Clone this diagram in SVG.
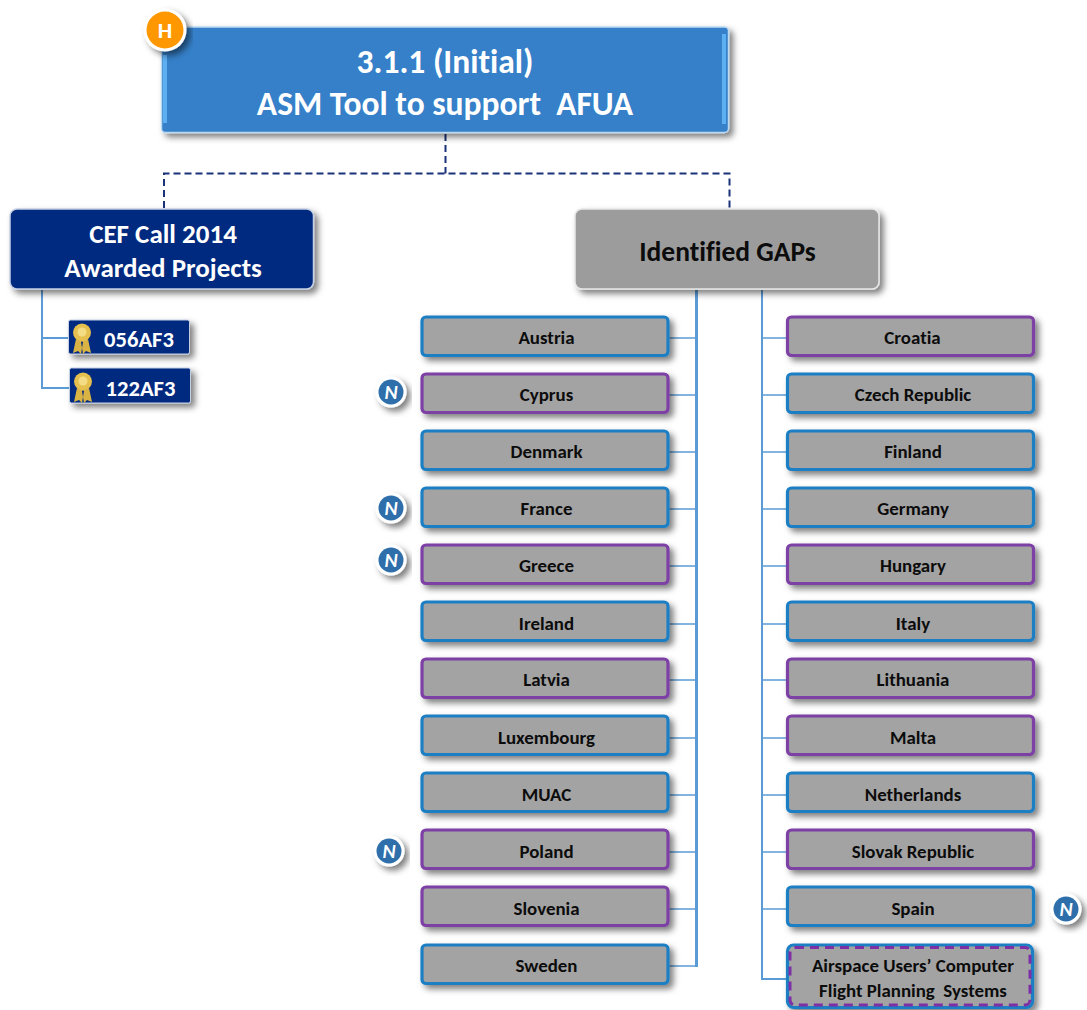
<svg xmlns="http://www.w3.org/2000/svg" width="1087" height="1010" viewBox="0 0 1087 1010">
<style>
text{font-family:Carlito,Lato,"Open Sans","Liberation Sans",sans-serif;font-weight:700;text-anchor:middle;font-variant-ligatures:none}
.w{fill:#fff}.k{fill:#0c0c0c}
.t1{font-size:33.500px}.t2{font-size:27.500px}.t3{font-size:27px}.s{font-size:22.600px}.c{font-size:18.900px}
.blue{fill:#a3a3a3;stroke:#1f7fc4;stroke-width:3.200}
.purple{fill:#a3a3a3;stroke:#7d3fa5;stroke-width:3.200}
.tb{stroke:#5b9bd5;fill:none;stroke-width:1.600}
.dash{stroke:#1a3278;fill:none;stroke-width:2;stroke-dasharray:7 4}
.sh{filter:url(#shadow)}
.nb{fill:#fff}.ni{fill:#2e6fab}
.n{font-size:20px;font-style:italic;font-weight:900;fill:#fff}
</style>
<defs>
<filter id="shadow" x="-10%" y="-20%" width="125%" height="150%"><feDropShadow dx="4" dy="4" stdDeviation="3" flood-color="#000" flood-opacity="0.5"/></filter>
<g id="medal">
<path d="M-6 3L-9 17L-4 15L-1 18L1 6ZM6 3L9 17L4 15L1 18L-1 6Z" fill="#d9b445"/>
<circle r="9" cy="-3.500" fill="#e6c04e"/>
<circle r="4.500" cy="-4" fill="#f4dc85"/>
</g>
<g id="badge">
<circle r="15.500" class="nb" filter="url(#shadow)"/>
<circle r="12.500" class="ni"/>
<text class="n" y="6.500">N</text>
</g>
</defs>
<g id="connectors">
<path class="dash" d="M445.500 134V173.500M164 208V173.500H729.500V208"/>
<path class="tb" style="stroke-width:2" d="M42 290V388H69M42 338H68"/>
<path class="tb" style="stroke-width:3" d="M696.500 290V967"/>
<path class="tb" style="stroke-width:2" d="M762 290V979H787"/>
<path class="tb" d="M668 338H696M668 395H696M668 452H696M668 509H696M668 566H696M668 624H696M668 680H696M668 738H696M668 795H696M668 852H696M668 909H696M668 966H696"/>
<path class="tb" d="M762 338H787M762 395H787M762 452H787M762 509H787M762 566H787M762 624H787M762 680H787M762 738H787M762 795H787M762 852H787M762 909H787"/>
</g>
<g id="root">
<rect x="161.500" y="27" width="567" height="105.500" rx="4" fill="#3480c8" stroke="#bcd9f2" stroke-width="1.500" class="sh"/>
<rect x="163" y="55" width="4" height="68" fill="#5cb0f2"/>
<rect x="722" y="34" width="4" height="90" fill="#5cb0f2"/>
<text class="t1 w" x="445" y="72.500">3.1.1 (Initial)</text>
<text class="t1 w" x="445" y="115" xml:space="preserve">ASM Tool to support  AFUA</text>
</g>
<g id="badge-h">
<circle cx="165" cy="30" r="21.500" fill="#fff" class="sh"/>
<circle cx="165" cy="30" r="18.500" fill="#ff9800"/>
<text class="w" style="font-size:23px" x="165" y="38">H</text>
</g>
<g id="cef">
<rect x="10" y="209" width="303.500" height="80" rx="7" fill="#022a80" stroke="#c5cfe3" stroke-width="1.500" class="sh"/>
<text class="t3 w" x="163" y="243">CEF Call 2014</text>
<text class="t3 w" x="163" y="277">Awarded Projects</text>
</g>
<g id="p056">
<rect x="68.500" y="320" width="121" height="34" rx="2" fill="#022a80" stroke="#c5cfe3" class="sh"/>
<use href="#medal" x="82" y="336"/>
<text class="s w" x="139" y="347">056AF3</text>
</g>
<g id="p122">
<rect x="69.500" y="368" width="121" height="35" rx="2" fill="#022a80" stroke="#c5cfe3" class="sh"/>
<use href="#medal" x="83" y="385"/>
<text class="s w" x="140.500" y="396">122AF3</text>
</g>
<g id="gaps">
<rect x="575" y="209" width="304" height="80" rx="7" fill="#9c9c9c" stroke="#e6e6e6" stroke-width="1.500" class="sh"/>
<text class="t2 k" x="727.500" y="261">Identified GAPs</text>
</g>
<g id="austria"><rect class="blue sh" x="422" y="317" width="246" height="38.500" rx="4"/><text class="c k" x="546.500" y="344">Austria</text></g>
<g id="cyprus"><rect class="purple sh" x="422" y="374" width="246" height="38.500" rx="4"/><text class="c k" x="546.500" y="401">Cyprus</text></g>
<g id="denmark"><rect class="blue sh" x="422" y="431" width="246" height="38.500" rx="4"/><text class="c k" x="546.500" y="458">Denmark</text></g>
<g id="france"><rect class="blue sh" x="422" y="488" width="246" height="38.500" rx="4"/><text class="c k" x="546.500" y="515">France</text></g>
<g id="greece"><rect class="purple sh" x="422" y="545" width="246" height="38.500" rx="4"/><text class="c k" x="546.500" y="572">Greece</text></g>
<g id="ireland"><rect class="blue sh" x="422" y="602" width="246" height="38.500" rx="4"/><text class="c k" x="546.500" y="630">Ireland</text></g>
<g id="latvia"><rect class="purple sh" x="422" y="659" width="246" height="38.500" rx="4"/><text class="c k" x="546.500" y="686">Latvia</text></g>
<g id="luxembourg"><rect class="blue sh" x="422" y="716" width="246" height="38.500" rx="4"/><text class="c k" x="546.500" y="744">Luxembourg</text></g>
<g id="muac"><rect class="blue sh" x="422" y="773" width="246" height="38.500" rx="4"/><text class="c k" x="546.500" y="801">MUAC</text></g>
<g id="poland"><rect class="purple sh" x="422" y="830" width="246" height="38.500" rx="4"/><text class="c k" x="546.500" y="858">Poland</text></g>
<g id="slovenia"><rect class="purple sh" x="422" y="887" width="246" height="38.500" rx="4"/><text class="c k" x="546.500" y="915">Slovenia</text></g>
<g id="sweden"><rect class="blue sh" x="422" y="945" width="246" height="38.500" rx="4"/><text class="c k" x="546.500" y="972">Sweden</text></g>
<g id="croatia"><rect class="purple sh" x="787.500" y="317" width="246" height="38.500" rx="4"/><text class="c k" x="912.500" y="344">Croatia</text></g>
<g id="czech"><rect class="blue sh" x="787.500" y="374" width="246" height="38.500" rx="4"/><text class="c k" x="913" y="401">Czech Republic</text></g>
<g id="finland"><rect class="blue sh" x="787.500" y="431" width="246" height="38.500" rx="4"/><text class="c k" x="913" y="458">Finland</text></g>
<g id="germany"><rect class="blue sh" x="787.500" y="488" width="246" height="38.500" rx="4"/><text class="c k" x="913" y="515">Germany</text></g>
<g id="hungary"><rect class="purple sh" x="787.500" y="545" width="246" height="38.500" rx="4"/><text class="c k" x="913" y="572">Hungary</text></g>
<g id="italy"><rect class="blue sh" x="787.500" y="602" width="246" height="38.500" rx="4"/><text class="c k" x="913" y="630">Italy</text></g>
<g id="lithuania"><rect class="purple sh" x="787.500" y="659" width="246" height="38.500" rx="4"/><text class="c k" x="913" y="686">Lithuania</text></g>
<g id="malta"><rect class="purple sh" x="787.500" y="716" width="246" height="38.500" rx="4"/><text class="c k" x="913" y="744">Malta</text></g>
<g id="netherlands"><rect class="blue sh" x="787.500" y="773" width="246" height="38.500" rx="4"/><text class="c k" x="913" y="801">Netherlands</text></g>
<g id="slovak"><rect class="purple sh" x="787.500" y="830" width="246" height="38.500" rx="4"/><text class="c k" x="913" y="858">Slovak Republic</text></g>
<g id="spain"><rect class="blue sh" x="787.500" y="887" width="246" height="38.500" rx="4"/><text class="c k" x="913" y="915">Spain</text></g>
<g id="airspace">
<rect class="blue sh" x="787.500" y="945" width="245" height="62.500" rx="6"/>
<rect x="790" y="947.500" width="240" height="57.500" rx="5" fill="none" stroke="#7d2fa5" stroke-width="3" stroke-dasharray="9 6"/>
<text class="c k" x="913" y="972">Airspace Users’ Computer</text>
<text class="c k" x="913" y="997" xml:space="preserve">Flight Planning  Systems</text>
</g>
<g id="badges-n">
<use href="#badge" x="391" y="392"/>
<use href="#badge" x="391" y="508"/>
<use href="#badge" x="391" y="560"/>
<use href="#badge" x="389" y="851"/>
<use href="#badge" x="1066" y="909"/>
</g>
</svg>
